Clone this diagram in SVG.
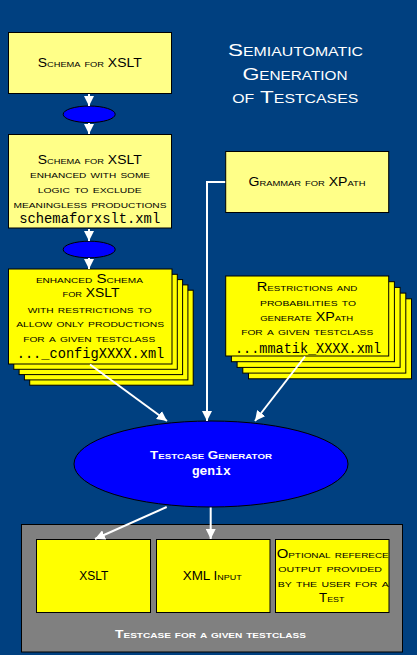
<svg xmlns="http://www.w3.org/2000/svg" width="417" height="655" viewBox="0 0 417 655">
<style>
.bg{fill:#004080}
.ly{fill:#FFFF88;stroke:#000;stroke-width:1}
.by{fill:#FFFF00;stroke:#000;stroke-width:1}
.bl{fill:#0000FF;stroke:#000;stroke-width:1}
.gr{fill:#808080;stroke:#000;stroke-width:1}
.sc{font-family:"Liberation Sans",Arial,sans-serif;font-variant:small-caps;font-size:12px;text-anchor:middle;fill:#000}
.mono{font-family:"Liberation Mono","Courier New",monospace;font-size:14px;text-anchor:middle;fill:#000}
.title{font-family:"Liberation Sans",Arial,sans-serif;font-variant:small-caps;font-size:17px;text-anchor:middle;fill:#fff}
.wb{font-family:"Liberation Sans",Arial,sans-serif;font-variant:small-caps;font-weight:bold;font-size:11px;text-anchor:middle;fill:#fff}
.wm{font-family:"Liberation Mono","Courier New",monospace;font-weight:bold;font-size:13px;text-anchor:middle;fill:#fff}
.conn{stroke:#fff;stroke-width:2;fill:none}
</style>
<defs>
<marker id="ah" markerUnits="userSpaceOnUse" markerWidth="10" markerHeight="10" viewBox="0 0 10 10" refX="10" refY="5" orient="auto">
<path d="M0,0 L10,5 L0,10 z" fill="#fff"/>
</marker>
</defs>
<rect class="bg" x="0" y="0" width="417" height="655"/>

<g id="title">
<text class="title" x="295.5" y="56" textLength="135" lengthAdjust="spacingAndGlyphs">Semiautomatic</text>
<text class="title" x="295" y="80" textLength="105" lengthAdjust="spacingAndGlyphs">Generation</text>
<text class="title" x="295.3" y="102.5" textLength="126" lengthAdjust="spacingAndGlyphs">of Testcases</text>
</g>

<g id="schema">
<rect class="ly" x="8.5" y="32.5" width="163" height="61"/>
<text class="sc" x="89.7" y="66.5" textLength="104" lengthAdjust="spacingAndGlyphs">Schema for XSLT</text>
</g>

<g id="step1">
<ellipse class="bl" cx="89.2" cy="114.3" rx="26" ry="8.3"/>
</g>

<g id="schema-enhanced">
<rect class="ly" x="8.5" y="134.5" width="163" height="93.5"/>
<text class="sc" x="89.7" y="164" textLength="104" lengthAdjust="spacingAndGlyphs">Schema for XSLT</text>
<text class="sc" x="90" y="178" textLength="120" lengthAdjust="spacingAndGlyphs">enhanced with some</text>
<text class="sc" x="89.7" y="193" textLength="104" lengthAdjust="spacingAndGlyphs">logic to exclude</text>
<text class="sc" x="90" y="207.5" textLength="153" lengthAdjust="spacingAndGlyphs">meaningless productions</text>
<text class="mono" x="89.7" y="223.3" textLength="141" lengthAdjust="spacingAndGlyphs">schemaforxslt.xml</text>
</g>

<g id="step2">
<ellipse class="bl" cx="89.2" cy="249.5" rx="26" ry="8.3"/>
</g>

<g id="grammar">
<rect class="ly" x="225.7" y="151.5" width="163" height="61"/>
<text class="sc" x="307" y="186" textLength="117" lengthAdjust="spacingAndGlyphs">Grammar for XPath</text>
</g>

<g id="config-stack">
<rect class="by" x="29.7" y="290.2" width="163.5" height="95"/>
<rect class="by" x="24.4" y="284.9" width="163.5" height="95"/>
<rect class="by" x="19.1" y="279.6" width="163.5" height="95"/>
<rect class="by" x="13.8" y="274.3" width="163.5" height="95"/>
<rect class="by" x="8.5" y="269" width="163.5" height="95"/>
<text class="sc" x="89.4" y="283" textLength="107" lengthAdjust="spacingAndGlyphs">enhanced Schema</text>
<text class="sc" x="91" y="297.3" textLength="57" lengthAdjust="spacingAndGlyphs">for XSLT</text>
<text class="sc" x="89.7" y="312.7" textLength="124" lengthAdjust="spacingAndGlyphs">with restrictions to</text>
<text class="sc" x="90.2" y="326.7" textLength="148" lengthAdjust="spacingAndGlyphs">allow only productions</text>
<text class="sc" x="89.2" y="341.7" textLength="132" lengthAdjust="spacingAndGlyphs">for a given testclass</text>
<text class="mono" x="90.5" y="358" textLength="147.6" lengthAdjust="spacingAndGlyphs">..._configXXXX.xml</text>
</g>

<g id="mmatik-stack">
<rect class="by" x="248.5" y="298.8" width="163" height="80"/>
<rect class="by" x="242.8" y="293.1" width="163" height="80"/>
<rect class="by" x="237.1" y="287.4" width="163" height="80"/>
<rect class="by" x="231.4" y="281.7" width="163" height="80"/>
<rect class="by" x="225.7" y="276" width="163" height="80"/>
<text class="sc" x="307" y="290.7" textLength="100.7" lengthAdjust="spacingAndGlyphs">Restrictions and</text>
<text class="sc" x="308" y="305.7" textLength="96" lengthAdjust="spacingAndGlyphs">probabilities to</text>
<text class="sc" x="306.7" y="321" textLength="93" lengthAdjust="spacingAndGlyphs">generate XPath</text>
<text class="sc" x="307.2" y="335" textLength="132" lengthAdjust="spacingAndGlyphs">for a given testclass</text>
<text class="mono" x="308" y="352.5" textLength="146" lengthAdjust="spacingAndGlyphs">...mmatik_XXXX.xml</text>
</g>

<g id="generator">
<ellipse class="bl" cx="211" cy="464" rx="137" ry="43"/>
<text class="wb" x="211" y="459.3" textLength="122" lengthAdjust="spacingAndGlyphs">Testcase Generator</text>
<text class="wm" x="211.2" y="475" textLength="39" lengthAdjust="spacingAndGlyphs">genix</text>
</g>

<g id="testcase">
<rect class="gr" x="21.5" y="524.5" width="381" height="127.5"/>
<text class="wb" x="210.5" y="638.3" textLength="191" lengthAdjust="spacingAndGlyphs">Testcase for a given testclass</text>
</g>

<g id="xslt">
<rect class="by" x="36.5" y="539.5" width="114" height="73"/>
<text class="sc" x="93.7" y="580" textLength="29" lengthAdjust="spacingAndGlyphs">XSLT</text>
</g>

<g id="xml-input">
<rect class="by" x="156.5" y="539.5" width="113.5" height="73"/>
<text class="sc" x="212.2" y="580" textLength="59" lengthAdjust="spacingAndGlyphs">XML Input</text>
</g>

<g id="reference-output">
<rect class="by" x="275.5" y="539.5" width="113.5" height="73"/>
<text class="sc" x="332.7" y="558.3" textLength="112" lengthAdjust="spacingAndGlyphs">Optional referece</text>
<text class="sc" x="330.2" y="572" textLength="103.7" lengthAdjust="spacingAndGlyphs">output provided</text>
<text class="sc" x="333.2" y="587" textLength="111" lengthAdjust="spacingAndGlyphs">by the user for a</text>
<text class="sc" x="331.7" y="601.7" textLength="25.3" lengthAdjust="spacingAndGlyphs">Test</text>
</g>

<g id="connectors">
<line class="conn" x1="89" y1="94" x2="89" y2="106" marker-end="url(#ah)"/>
<line class="conn" x1="89" y1="123" x2="89" y2="134" marker-end="url(#ah)"/>
<line class="conn" x1="89" y1="229" x2="89" y2="241" marker-end="url(#ah)"/>
<line class="conn" x1="89" y1="258" x2="89" y2="269" marker-end="url(#ah)"/>
<polyline class="conn" points="225.2,182 207,182 207,421" marker-end="url(#ah)"/>
<line class="conn" x1="90" y1="364.5" x2="167" y2="421" marker-end="url(#ah)"/>
<line class="conn" x1="305" y1="356.5" x2="255" y2="421" marker-end="url(#ah)"/>
<line class="conn" x1="166.7" y1="507" x2="95" y2="539" marker-end="url(#ah)"/>
<line class="conn" x1="210.7" y1="507.5" x2="210.7" y2="539" marker-end="url(#ah)"/>
</g>
</svg>
